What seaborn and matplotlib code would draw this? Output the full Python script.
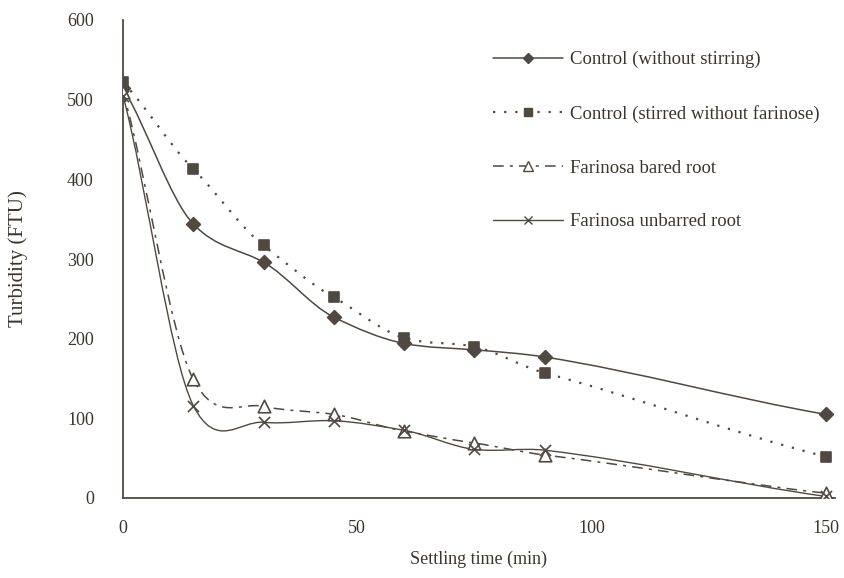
import numpy as np
import seaborn as sns
import matplotlib
matplotlib.use("Agg")
from matplotlib import pyplot as plt
from matplotlib.path import Path
from matplotlib.patches import PathPatch
from matplotlib.lines import Line2D

# values
time_min = [0, 15, 30, 45, 60, 75, 90, 150]
control_no_stir = [515, 344, 296, 227, 194, 186, 177, 105]
control_stirred = [522, 413, 317, 252, 201, 190, 157, 52]
bared_root = [510, 149, 115, 105, 84, 69, 54, 6]
unbarred_root = [505, 116, 95, 97, 85, 61, 60, 2]

series_labels = ["Control (without stirring)",
                 "Control (stirred without farinose)",
                 "Farinosa bared root",
                 "Farinosa unbarred root"]

ink = "#4f4942"


def smooth_path(xs, ys, k=0.85):
    # smoothed line like excel: cubic hermite segments drawn as bezier curves
    x = np.asarray(xs, float)
    y = np.asarray(ys, float)
    n = len(x)
    m = np.empty(n)
    m[0] = (y[1] - y[0]) / (x[1] - x[0])
    m[-1] = (y[-1] - y[-2]) / (x[-1] - x[-2])
    m[1:-1] = (y[2:] - y[:-2]) / (x[2:] - x[:-2])
    m *= k
    verts = [(x[0], y[0])]
    codes = [Path.MOVETO]
    for i in range(n - 1):
        d = (x[i + 1] - x[i]) / 3
        verts += [(x[i] + d, y[i] + m[i] * d),
                  (x[i + 1] - d, y[i + 1] - m[i + 1] * d),
                  (x[i + 1], y[i + 1])]
        codes += [Path.CURVE4] * 3
    return Path(verts, codes)


sns.set_style("white")
plt.rcParams['font.family'] = ['Liberation Serif', 'DejaVu Serif']

fig, ax = plt.subplots(figsize=(8.45, 5.78), dpi=100)
fig.subplots_adjust(left=123/845, right=835/845, bottom=1-498/578, top=1-20/578)

styles = [
    dict(data=control_no_stir, marker="D", ls="-", lw=1.1, ms=7, fill=True),
    dict(data=control_stirred, marker="s", ls=(0, (1, 4)), lw=1.6, ms=7, fill=True),
    dict(data=bared_root, marker="^", ls=(0, (7, 4, 2, 4)), lw=1.1, ms=9, fill=False),
    dict(data=unbarred_root, marker="x", ls="-", lw=1.0, ms=8, fill=True),
]

handles = []
for st, lab in zip(styles, series_labels):
    ax.add_patch(PathPatch(smooth_path(time_min, st["data"]), fill=False,
                           edgecolor=ink, lw=st["lw"], linestyle=st["ls"],
                           zorder=2))
    face = ink if st["fill"] else "white"
    sns.scatterplot(x=time_min, y=st["data"], marker=st["marker"],
                    s=st["ms"] ** 2, color=face, edgecolor=ink,
                    linewidth=1.2, ax=ax, zorder=3, legend=False)
    handles.append(Line2D([], [], color=ink, lw=st["lw"], linestyle=st["ls"],
                          marker=st["marker"], markersize=st["ms"] * 0.8,
                          markerfacecolor=face, markeredgecolor=ink))

ax.set_xlim(0, 152)
ax.set_ylim(0, 600)
ax.set_xticks([0, 50, 100, 150])
ax.set_yticks(range(0, 601, 100))
sns.despine(ax=ax)
for side in ["left", "bottom"]:
    ax.spines[side].set_color(ink)
    ax.spines[side].set_linewidth(1.3)
ax.tick_params(axis="y", direction="inout", length=6, width=1, color=ink,
               pad=18, labelsize=13, labelcolor="#3a352f")
ax.tick_params(axis="x", direction="inout", length=8, width=1, color=ink,
               pad=12, labelsize=13, labelcolor="#3a352f")

ax.set_xlabel("Settling time (min)", fontsize=13, color="#3a352f", labelpad=10)
ax.set_ylabel("Turbidity (FTU)", fontsize=15, color="#3a352f", labelpad=28)

ax.legend(handles, series_labels, loc="upper left", bbox_to_anchor=(0.52, 0.935),
          frameon=False, fontsize=13.5, handlelength=3.7, handletextpad=0.4,
          labelspacing=1.95, borderpad=0, borderaxespad=0, labelcolor="#3a352f")

plt.savefig("out.png", dpi=100)
